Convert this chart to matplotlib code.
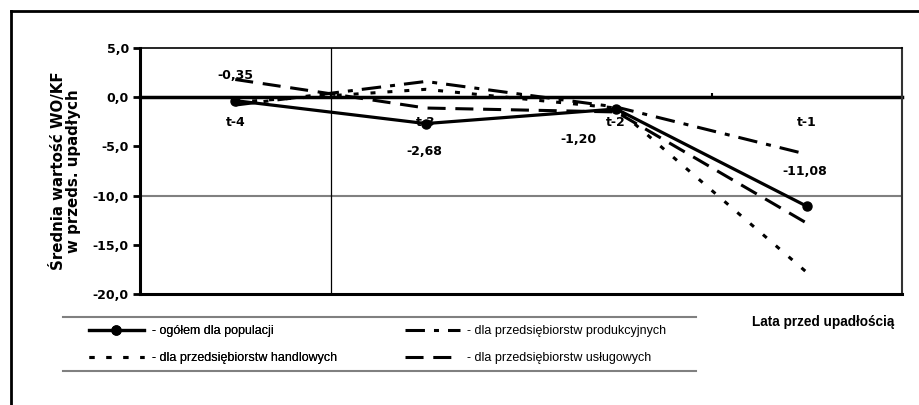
import matplotlib
matplotlib.use('Agg')
import matplotlib.pyplot as plt
from matplotlib.lines import Line2D
from matplotlib.ticker import FuncFormatter

# values
categories = ['t-4', 't-3', 't-2', 't-1']
ogolem = [-0.35, -2.68, -1.20, -11.08]
produkcyjne = [-0.8, 1.6, -1.0, -5.8]
handlowe = [-0.5, 0.8, -1.1, -17.8]
uslugowe = [1.8, -1.1, -1.5, -12.8]
value_labels = ['-0,35', '-2,68', '-1,20', '-11,08']

series_names = ['- ogółem dla populacji',
                '- dla przedsiębiorstw produkcyjnych',
                '- dla przedsiębiorstw handlowych',
                '- dla przedsiębiorstw usługowych']

plt.rcParams['lines.scale_dashes'] = False
narrow = ['Liberation Sans', 'DejaVu Sans']

fig = plt.figure(figsize=(9.2, 4.05), dpi=100)
ax = fig.add_axes([140/920, 1 - 294/405, 762/920, 246/405])

x = list(range(len(categories)))
l1, = ax.plot(x, ogolem, color='black', lw=2.3, marker='o', ms=6.5, zorder=5)
l2, = ax.plot(x, produkcyjne, color='black', lw=2.2, dashes=(14, 6.5, 3.6, 6.5), zorder=4)
l3, = ax.plot(x, handlowe, color='black', lw=2.2, dashes=(3.6, 8.6), zorder=4)
l4, = ax.plot(x, uslugowe, color='black', lw=2.2, dashes=(13, 7), zorder=4)

ax.set_xlim(-0.5, 3.5)
ax.set_ylim(-20, 5)
ax.set_yticks([5, 0, -5, -10, -15, -20])
ax.yaxis.set_major_formatter(FuncFormatter(lambda v, p: f'{v:.1f}'.replace('.', ',')))
ax.set_xticks([])
ax.tick_params(axis='y', direction='out', length=5, width=2, pad=3, labelsize=9)
for lab in ax.get_yticklabels():
    lab.set_fontweight('bold')

ax.spines['left'].set_linewidth(2.2)
ax.spines['bottom'].set_linewidth(2.2)
ax.spines['top'].set_linewidth(1.2)
ax.spines['right'].set_linewidth(1.5)
ax.spines['right'].set_color('#333333')

ax.axhline(-10, color='#808080', lw=1.5, zorder=1)
ax.axvline(0.5, color='black', lw=0.9, zorder=1)

# category axis crossing at zero
sec = ax.secondary_xaxis(0.8)
sec.set_alignment('bottom')
sec.set_xticks([])
sec.set_xticks([0.5, 1.5, 2.5], minor=True)
sec.tick_params(axis='x', which='minor', direction='in', length=3, width=1.5)
sec.spines['bottom'].set_linewidth(2.5)

# category names sit just under the zero line, on top of the series
for xi, cat in zip(x, categories):
    ax.text(xi, -2.55, cat, ha='center', va='center', fontsize=9, fontweight='bold',
            zorder=10)

# data labels for the total series
label_pos = [(0.0, 2.2), (0.99, -5.5), (1.80, -4.3), (2.99, -7.6)]
for (lx, ly), txt in zip(label_pos, value_labels):
    ax.text(lx, ly, txt, ha='center', va='center', fontsize=9, fontweight='bold')

ax.set_ylabel('Średnia wartość WO/KF\nw przeds. upadłych', fontsize=10.8, fontweight='bold',
              linespacing=1.0)
ax.yaxis.set_label_coords(-0.078, 0.5)

# legend in two columns, drawn as two single-column legends
leg_kw = dict(loc='upper left', frameon=False, borderpad=0, borderaxespad=0,
              handlelength=4.4, handletextpad=0.6, labelspacing=1.2,
              prop={'family': narrow, 'size': 9})
leg1 = fig.legend([l1, l3], [series_names[0], series_names[2]],
                  bbox_to_anchor=(89/920, 1 - 325/405), **leg_kw)
leg2 = fig.legend([l2, l4], [series_names[1], series_names[3]],
                  bbox_to_anchor=(405/920, 1 - 325/405), **leg_kw)
fig.add_artist(leg1)

for yy in (317, 371):
    fig.add_artist(Line2D([63/920, 696/920], [1 - yy/405, 1 - yy/405],
                          transform=fig.transFigure, color='#808080', lw=1.5))

fig.text(752/920, 1 - 322/405, 'Lata przed upadłością', ha='left', va='center',
         fontsize=9.8, fontweight='bold', family=narrow)

# outer frame (cut off at the right and bottom)
fig.add_artist(Line2D([11/920, 1.0], [1 - 11/405, 1 - 11/405], transform=fig.transFigure,
                      color='black', lw=2))
fig.add_artist(Line2D([11/920, 11/920], [1 - 11/405, 0.0], transform=fig.transFigure,
                      color='black', lw=2))

fig.savefig('out.png', dpi=100)
